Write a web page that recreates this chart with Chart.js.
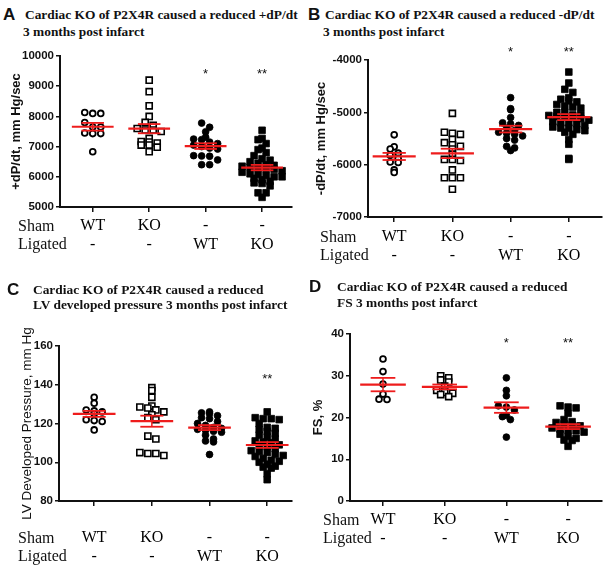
<!DOCTYPE html>
<html>
<head>
<meta charset="utf-8">
<script src="https://cdn.jsdelivr.net/npm/chart.js@4.4.1/dist/chart.umd.min.js"></script>
<style>
  html, body { margin: 0; padding: 0; background: #fff; }
  #page { position: relative; width: 611px; height: 572px; overflow: hidden; }
  canvas { position: absolute; }
  .txt { position: absolute; white-space: pre; color: #111; }
  .ttl { font: bold 13.4px "Liberation Serif", "Times New Roman", serif; line-height: 16px; }
  .let { font: bold 17px "Liberation Sans", Arial, sans-serif; line-height: 18px; }
  .row { font: 16px "Liberation Serif", "Times New Roman", serif; line-height: 18.4px; }
</style>
</head>
<body>
<div id="page">
  <canvas id="cA"></canvas>
  <canvas id="cB"></canvas>
  <canvas id="cC"></canvas>
  <canvas id="cD"></canvas>
</div>
<script>
// group labels (two rows under each x tick)
const shamRow = ['WT', 'KO', '-', '-'];
const ligatedRow = ['-', '-', 'WT', 'KO'];

// A: +dP/dt, mm Hg/sec
const aShamWT = [8100, 8100, 8130, 7800, 7650, 7650, 7430, 7450, 7430, 6830];
const aShamKO = [9200, 8820, 8350, 8000, 7800, 7700, 7600, 7550, 7550, 7500, 7270, 7170, 7150, 7120, 7050, 7050, 6980, 6830];
const aLigWT = [7780, 7640, 7490, 7310, 7250, 7230, 7150, 7100, 7050, 7000, 6950, 6920, 6700, 6690, 6680, 6560, 6400, 6400];
const aLigKO = [7540, 7270, 7230, 7100, 6950, 6900, 6800, 6700, 6600, 6550, 6500, 6450, 6400, 6380, 6350, 6320, 6300, 6280,
                6250, 6200, 6150, 6100, 6080, 6050, 6000, 6000, 5950, 5900, 5850, 5800, 5780, 5700, 5470, 5470, 5320];
const aStars = ['', '', '*', '**'];

// B: -dP/dt, mm Hg/sec
const bShamWT = [-5430, -5660, -5700, -5780, -5820, -5880, -5950, -5960, -6100, -6150];
const bShamKO = [-5020, -5380, -5400, -5420, -5520, -5580, -5620, -5650, -5700, -5800, -5900, -5900, -5920, -6100, -6250, -6250, -6250, -6470];
const bLigWT = [-4720, -4950, -4930, -5100, -5200, -5220, -5250, -5300, -5350, -5380, -5400, -5420, -5450, -5500, -5530, -5650, -5680, -5730];
const bLigKO = [-4230, -4440, -4560, -4620, -4720, -4750, -4780, -4800, -4850, -4880, -4900, -4920, -5000, -5000, -5050, -5080,
                -5050, -5060, -5080, -5100, -5120, -5150, -5180, -5200, -5220, -5250, -5280, -5300, -5330, -5380, -5420, -5520,
                -5610, -5880, -5900, -5200, -5300, -5350];
const bStars = ['', '', '*', '**'];

// C: LV developed pressure, mm Hg
const cShamWT = [133.5, 130.5, 127, 126.5, 126, 125, 122, 121, 121.5, 116.7];
const cShamKO = [138.5, 137, 133.5, 129, 128.5, 128, 127, 126, 124.5, 123, 122, 113.5, 112, 105, 104.5, 103.5, 104.5];
const cLigWT = [126, 125.5, 125, 124, 123, 122.5, 121, 120, 119, 118, 117.5, 117, 116.5, 116, 115.5, 114, 112, 111, 110.5, 104];
const cLigKO = [126, 123, 122.5, 122.5, 122, 120, 118, 117.5, 117, 116, 115, 114, 113, 112, 111, 110.5, 110, 109, 108.5,
                108, 107, 106, 105.5, 105, 104, 103.5, 103, 102, 101, 100.5, 100, 99, 98, 97.5, 97, 94, 91];
const cStars = ['', '', '', '**'];

// D: FS, %
const dShamWT = [34, 31, 28, 25.6, 24.3, 24.4];
const dShamKO = [30, 29.5, 29, 28.5, 27.5, 26.5, 26, 25.8, 25.5, 25];
const dLigWT = [29.5, 26.5, 25.2, 22.8, 22.5, 21.8, 20.5, 20.2, 19.5, 15.3];
const dLigKO = [22.8, 22.5, 22.3, 21, 19.5, 19, 18.8, 18.5, 18.2, 18, 17.5, 17.2, 17, 16.8, 16.5, 16, 15.5, 15, 14.6, 14.5, 13.1];
const dStars = ['', '', '*', '**'];

const RED = '#ee1c1c';
const SANS = '"Liberation Sans", Arial, sans-serif';
const SERIF = '"Liberation Serif", "Times New Roman", serif';

// marker look per group: open circle, open square, filled circle, filled square
const markers = [
    { pointStyle: 'circle', pointRadius: 2.9, pointBorderWidth: 1.8, pointBackgroundColor: '#fff' },
    { pointStyle: 'rect', pointRadius: 4.3, pointBorderWidth: 1.6, pointBackgroundColor: '#fff' },
    { pointStyle: 'circle', pointRadius: 3.4, pointBorderWidth: 0.8, pointBackgroundColor: '#000' },
    { pointStyle: 'rect', pointRadius: 4.7, pointBorderWidth: 0.8, pointBackgroundColor: '#000' },
];

const stats = (vals) => {
    const n = vals.length;
    const m = vals.reduce((s, v) => s + v, 0) / n;
    const sd = Math.sqrt(vals.reduce((s, v) => s + (v - m) * (v - m), 0) / (n - 1));
    return { mean: m, sem: sd / Math.sqrt(n) };
};

const starPlugin = {
    id: 'stars',
    afterDatasetsDraw(chart, args, opts) {
        const { ctx, scales: { x, y } } = chart;
        ctx.save();
        ctx.fillStyle = '#111';
        ctx.font = '13px ' + SANS;
        ctx.textAlign = 'center';
        ctx.textBaseline = 'middle';
        opts.marks.forEach((s, i) => {
            if (s) ctx.fillText(s, x.getPixelForValue(i), y.getPixelForValue(opts.level));
        });
        ctx.restore();
    }
};

// scatter dot plot layout: points falling in the same band of pixels are set side by side
const spread = (chart, groups, band, gap) => {
    const xs = chart.scales.x, ys = chart.scales.y;
    const unit = xs.getPixelForValue(1) - xs.getPixelForValue(0);
    groups.forEach((vals, g) => {
        const ds = chart.data.datasets.find(d => d.group === g);
        const bins = {};
        vals.forEach((v, k) => {
            const b = Math.floor((ys.getPixelForValue(v) - ys.top) / band);
            (bins[b] = bins[b] || []).push(k);
        });
        Object.values(bins).forEach(ks => {
            ks.sort((a, b) => vals[b] - vals[a]);
            ks.forEach((k, j) => {
                const off = (j - (ks.length - 1) / 2) * gap;
                ds.data[k].x = g + off / unit;
            });
        });
    });
    chart.update('none');
};

const addText = (cls, x, cy, str, lh) => {
    const d = document.createElement('div');
    d.className = 'txt ' + cls;
    d.style.left = x + 'px';
    d.style.top = (cy - lh / 2) + 'px';
    d.textContent = str;
    document.getElementById('page').appendChild(d);
};

const makePanel = (p) => {
    const cv = document.getElementById(p.id);
    cv.style.left = p.box[0] + 'px';
    cv.style.top = p.box[1] + 'px';
    cv.width = p.box[2];
    cv.height = p.box[3];
    cv.style.width = p.box[2] + 'px';
    cv.style.height = p.box[3] + 'px';

    const datasets = [];
    p.groups.forEach((vals, g) => {
        const st = stats(vals);
        const seg = (x0, x1, y0, y1, w) => ({
            data: [{ x: x0, y: y0 }, { x: x1, y: y1 }],
            showLine: true, borderColor: RED, borderWidth: w, pointRadius: 0, order: 0
        });
        datasets.push(seg(g - 0.37, g + 0.37, st.mean, st.mean, 2.2));
        datasets.push(seg(g - 0.2, g + 0.2, st.mean + st.sem, st.mean + st.sem, 1.8));
        datasets.push(seg(g - 0.2, g + 0.2, st.mean - st.sem, st.mean - st.sem, 1.8));
        datasets.push(seg(g, g, st.mean - st.sem, st.mean + st.sem, 1.5));
        datasets.push(Object.assign({
            group: g,
            data: vals.map(v => ({ x: g, y: v })),
            borderColor: '#000',
            pointBorderColor: '#000',
            order: 1
        }, markers[g]));
    });

    const chart = new Chart(cv, {
        type: 'scatter',
        data: { datasets },
        plugins: [starPlugin],
        options: {
            responsive: false,
            animation: false,
            events: [],
            layout: { padding: { top: p.padTop, right: p.padRight, left: 0, bottom: 0 } },
            plugins: {
                legend: { display: false },
                tooltip: { enabled: false },
                stars: { marks: p.stars, level: p.starLevel }
            },
            scales: {
                x: {
                    type: 'linear',
                    min: p.xRange[0],
                    max: p.xRange[1],
                    afterBuildTicks: (s) => { s.ticks = shamRow.map((c, i) => ({ value: i })); },
                    afterFit: (s) => { s.height = p.xHeight; },
                    border: { display: true, color: '#111', width: 2 },
                    grid: { display: true, drawOnChartArea: false, drawTicks: true, tickLength: 5, color: '#111', lineWidth: 1.5 },
                    ticks: {
                        autoSkip: false,
                        maxRotation: 0,
                        padding: p.rowPad,
                        color: '#000',
                        font: { family: SERIF, size: 16, lineHeight: 1.15 },
                        callback: (v) => [shamRow[v], ligatedRow[v]]
                    }
                },
                y: {
                    min: p.yRange[0],
                    max: p.yRange[1],
                    afterFit: (s) => { s.width = p.yWidth; },
                    border: { display: true, color: '#111', width: 2 },
                    grid: { display: true, drawOnChartArea: false, drawTicks: true, tickLength: 4, color: '#111', lineWidth: 1.5 },
                    ticks: {
                        stepSize: p.yStep,
                        padding: 2,
                        color: '#111',
                        font: { family: SANS, size: 11.5, weight: 'bold' },
                        callback: (v) => String(v)
                    },
                    title: {
                        display: true,
                        text: p.yTitle,
                        color: '#111',
                        padding: { top: p.titlePad, bottom: 0 },
                        font: { family: SANS, size: p.yTitleSize, weight: p.yTitleWeight }
                    }
                }
            }
        }
    });
    spread(chart, p.groups, 5.5, 8);

    addText('let', p.letter[1], p.letter[2], p.letter[0], 18);
    p.title.forEach(t => addText('ttl', t[1], t[2], t[0], 16));
    addText('row', p.rowX, p.rowY, 'Sham', 18.4);
    addText('row', p.rowX, p.rowY + 18.4, 'Ligated', 18.4);
    return chart;
};

makePanel({
    id: 'cA', box: [0, 40, 305, 225], padTop: 16, padRight: 13, xHeight: 58, yWidth: 60,
    xRange: [-0.58, 3.53], yRange: [5000, 10000], yStep: 1000, rowPad: 5,
    yTitle: '+dP/dt, mm Hg/sec', yTitleSize: 13, yTitleWeight: 'bold', titlePad: 9,
    groups: [aShamWT, aShamKO, aLigWT, aLigKO], stars: aStars, starLevel: 9400,
    letter: ['A', 3, 15],
    title: [['Cardiac KO of P2X4R caused a reduced +dP/dt', 25, 15], ['3 months post infarct', 23, 32]],
    rowX: 18, rowY: 226
});

makePanel({
    id: 'cB', box: [305, 40, 306, 232], padTop: 20, padRight: 9, xHeight: 55, yWidth: 63,
    xRange: [-0.45, 3.57], yRange: [-7000, -4000], yStep: 1000, rowPad: 6,
    yTitle: '-dP/dt, mm Hg/sec', yTitleSize: 13, yTitleWeight: 'bold', titlePad: 9,
    groups: [bShamWT, bShamKO, bLigWT, bLigKO], stars: bStars, starLevel: -3850,
    letter: ['B', 308, 15],
    title: [['Cardiac KO of P2X4R caused a reduced -dP/dt', 325, 15], ['3 months post infarct', 323, 32]],
    rowX: 320, rowY: 237
});

makePanel({
    id: 'cC', box: [0, 318, 305, 254], padTop: 28, padRight: 13, xHeight: 71, yWidth: 59,
    xRange: [-0.61, 3.43], yRange: [80, 160], yStep: 20, rowPad: 23,
    yTitle: 'LV Developed Pressure, mm Hg', yTitleSize: 13.5, yTitleWeight: 'normal', titlePad: 19,
    groups: [cShamWT, cShamKO, cLigWT, cLigKO], stars: cStars, starLevel: 142.5,
    letter: ['C', 7, 290],
    title: [['Cardiac KO of P2X4R caused a reduced', 33, 290], ['LV developed pressure 3 months post infarct', 33, 305]],
    rowX: 18, rowY: 538
});

makePanel({
    id: 'cD', box: [305, 318, 306, 254], padTop: 16, padRight: 9, xHeight: 71, yWidth: 45,
    xRange: [-0.535, 3.55], yRange: [0, 40], yStep: 10, rowPad: 5,
    yTitle: 'FS, %', yTitleSize: 13, yTitleWeight: 'bold', titlePad: 6,
    groups: [dShamWT, dShamKO, dLigWT, dLigKO], stars: dStars, starLevel: 37.8,
    letter: ['D', 309, 287],
    title: [['Cardiac KO of P2X4R caused a reduced', 337, 287], ['FS 3 months post infarct', 337, 303]],
    rowX: 323, rowY: 520
});
</script>
</body>
</html>
